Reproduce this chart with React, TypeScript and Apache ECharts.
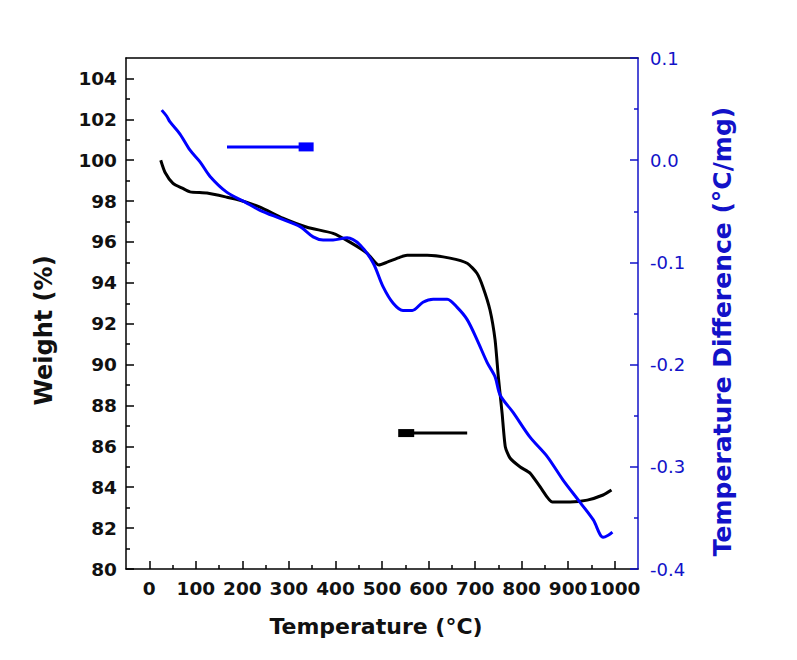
import React, { useEffect, useRef } from "react";
import * as echarts from "echarts";

// Weight (TG) curve: temperature (°C) and weight (%)
const tgTemp = [24.6, 34, 51, 71, 87.6, 124, 167, 195, 238, 287, 339, 395, 431, 468, 493, 511, 539, 554, 597, 646, 683, 704, 717, 732, 743, 750, 758, 765, 775, 797, 818, 840, 866, 904, 941, 975, 993];
const tgWeight = [100.0, 99.4, 98.87, 98.63, 98.45, 98.39, 98.19, 98.04, 97.7, 97.16, 96.72, 96.42, 95.99, 95.45, 94.87, 95.01, 95.26, 95.35, 95.35, 95.21, 94.96, 94.47, 93.79, 92.67, 91.2, 89.39, 87.63, 85.97, 85.43, 84.99, 84.69, 84.01, 83.28, 83.28, 83.37, 83.62, 83.86];

// DTA curve: temperature (°C) and temperature difference (°C/mg)
const dtaTemp = [26.7, 37.5, 44.6, 66, 87.6, 109, 130.6, 167, 206, 238, 281, 324, 352, 373.5, 395, 425, 453, 481, 502.5, 524, 545, 565, 588, 610, 640, 661.5, 683, 704.5, 726, 743, 754, 782, 818, 855, 889, 926, 954, 975, 986, 995];
const dtaValue = [0.049, 0.043, 0.0374, 0.0256, 0.0098, -0.0016, -0.0159, -0.0315, -0.041, -0.049, -0.057, -0.065, -0.075, -0.078, -0.078, -0.076, -0.083, -0.1006, -0.124, -0.14, -0.147, -0.147, -0.139, -0.136, -0.136, -0.144, -0.156, -0.176, -0.198, -0.212, -0.23, -0.247, -0.271, -0.29, -0.313, -0.335, -0.352, -0.369, -0.367, -0.364];

// Axis ticks
const xTicks = [0, 100, 200, 300, 400, 500, 600, 700, 800, 900, 1000];
const xMinorTicks = [50, 150, 250, 350, 450, 550, 650, 750, 850, 950];
const weightTicks = [80, 82, 84, 86, 88, 90, 92, 94, 96, 98, 100, 102, 104];
const weightMinorTicks = [81, 83, 85, 87, 89, 91, 93, 95, 97, 99, 101, 103];
const dtaTicks = [-0.4, -0.3, -0.2, -0.1, 0, 0.1];
const dtaMinorTicks = [-0.35, -0.25, -0.15, -0.05, 0.05];

// Arrow annotations (data coordinates): [start temp, end temp], level
const dtaArrowTemp = [167, 337];
const dtaArrowLevel = 0.013;
const tgArrowTemp = [683, 552];
const tgArrowLevel = 86.65;

const BLUE = "#0000ff";
const AXIS_BLUE = "#1212c8";
const FONT = "DejaVu Sans";

export default function App() {
  const ref = useRef<HTMLDivElement>(null);
  useEffect(() => {
    if (!ref.current) return;
    const chart = echarts.init(ref.current, undefined, { renderer: "svg" });
    const tick = (vals: number[], len: number, color: string) => ({
      show: true,
      inside: true,
      length: len,
      customValues: vals,
      lineStyle: { color, width: 1.5 },
    });
    const option: any = {
      animation: false,
      backgroundColor: "#ffffff",
      grid: { left: 126, right: 159, top: 58, bottom: 91, containLabel: false, outerBoundsMode: "none" },
      xAxis: [
        {
          type: "value",
          min: -50,
          max: 1050,
          position: "bottom",
          axisLine: { show: true, onZero: false, lineStyle: { color: "#000", width: 1.5 } },
          axisTick: tick(xTicks, 8, "#000"),
          axisLabel: {
            customValues: xTicks,
            showMaxLabel: true,
            showMinLabel: true,
            hideOverlap: false,
            formatter: (v: number) => String(v),
            color: "#111",
            fontFamily: FONT,
            fontWeight: "bold",
            fontSize: 18.5,
            margin: 10,
          },
          splitLine: { show: false },
          name: "Temperature (°C)",
          nameLocation: "middle",
          nameGap: 46,
          nameTextStyle: { color: "#111", fontFamily: FONT, fontWeight: "bold", fontSize: 22, padding: [0, 12, 0, 0] },
        },
        {
          type: "value",
          min: -50,
          max: 1050,
          position: "bottom",
          axisLine: { show: false, onZero: false },
          axisTick: tick(xMinorTicks, 4, "#000"),
          axisLabel: { show: false },
          splitLine: { show: false },
        },
        {
          type: "value",
          min: -50,
          max: 1050,
          position: "top",
          axisLine: { show: true, onZero: false, lineStyle: { color: "#000", width: 1.5 } },
          axisTick: { show: false },
          axisLabel: { show: false },
          splitLine: { show: false },
        },
      ],
      yAxis: [
        {
          type: "value",
          min: 80,
          max: 105,
          position: "left",
          axisLine: { show: true, onZero: false, lineStyle: { color: "#000", width: 1.5 } },
          axisTick: tick(weightTicks, 8, "#000"),
          axisLabel: {
            customValues: weightTicks,
            formatter: (v: number) => String(v),
            color: "#111",
            fontFamily: FONT,
            fontWeight: "bold",
            fontSize: 18.5,
            margin: 9,
          },
          splitLine: { show: false },
          name: "Weight (%)",
          nameLocation: "middle",
          nameGap: 70,
          nameTextStyle: { color: "#111", fontFamily: FONT, fontWeight: "bold", fontSize: 24, padding: [0, 34, 0, 0] },
        },
        {
          type: "value",
          min: 80,
          max: 105,
          position: "left",
          axisLine: { show: false, onZero: false },
          axisTick: tick(weightMinorTicks, 4, "#000"),
          axisLabel: { show: false },
          splitLine: { show: false },
        },
        {
          type: "value",
          min: -0.4,
          max: 0.1,
          position: "right",
          axisLine: { show: true, onZero: false, lineStyle: { color: AXIS_BLUE, width: 1.5 } },
          axisTick: tick(dtaTicks, 8, AXIS_BLUE),
          axisLabel: {
            customValues: dtaTicks,
            color: AXIS_BLUE,
            fontFamily: FONT,
            fontSize: 18,
            margin: 12,
            formatter: (v: number) => (Math.abs(v) < 1e-9 ? "0.0" : v.toFixed(1)),
          },
          splitLine: { show: false },
          name: "Temperature Difference (°C/mg)",
          nameLocation: "middle",
          nameGap: 72,
          nameTextStyle: { color: AXIS_BLUE, fontFamily: FONT, fontWeight: "bold", fontSize: 25, padding: [0, 36, 0, 0] },
        },
        {
          type: "value",
          min: -0.4,
          max: 0.1,
          position: "right",
          axisLine: { show: false, onZero: false },
          axisTick: tick(dtaMinorTicks, 4, AXIS_BLUE),
          axisLabel: { show: false },
          splitLine: { show: false },
        },
      ],
      series: [
        {
          name: "Weight",
          type: "line",
          xAxisIndex: 0,
          yAxisIndex: 0,
          data: tgTemp.map((t, i) => [t, tgWeight[i]]),
          showSymbol: false,
          smooth: 0.2,
          lineStyle: { color: "#000", width: 3 },
          itemStyle: { color: "#000" },
          z: 3,
        },
        {
          name: "Temperature Difference",
          type: "line",
          xAxisIndex: 0,
          yAxisIndex: 2,
          data: dtaTemp.map((t, i) => [t, dtaValue[i]]),
          showSymbol: false,
          smooth: 0.3,
          lineStyle: { color: BLUE, width: 3 },
          itemStyle: { color: BLUE },
          z: 4,
        },
        {
          name: "DTA arrow",
          type: "line",
          xAxisIndex: 0,
          yAxisIndex: 2,
          showSymbol: true,
          data: [
            { value: [dtaArrowTemp[0], dtaArrowLevel], symbol: "none" },
            { value: [dtaArrowTemp[1], dtaArrowLevel], symbol: "rect", symbolSize: [15, 9] },
          ],
          lineStyle: { color: BLUE, width: 3 },
          itemStyle: { color: BLUE },
        },
        {
          name: "TG arrow",
          type: "line",
          xAxisIndex: 0,
          yAxisIndex: 0,
          showSymbol: true,
          data: [
            { value: [tgArrowTemp[0], tgArrowLevel], symbol: "none" },
            { value: [tgArrowTemp[1], tgArrowLevel], symbol: "rect", symbolSize: [16, 8] },
          ],
          lineStyle: { color: "#000", width: 3 },
          itemStyle: { color: "#000" },
        },
      ],
    };
    chart.setOption(option);
    return () => chart.dispose();
  }, []);
  return (
    <div
      ref={ref}
      style={{ position: "fixed", left: 0, top: 0, width: 797, height: 660, background: "#fff" }}
    />
  );
}
